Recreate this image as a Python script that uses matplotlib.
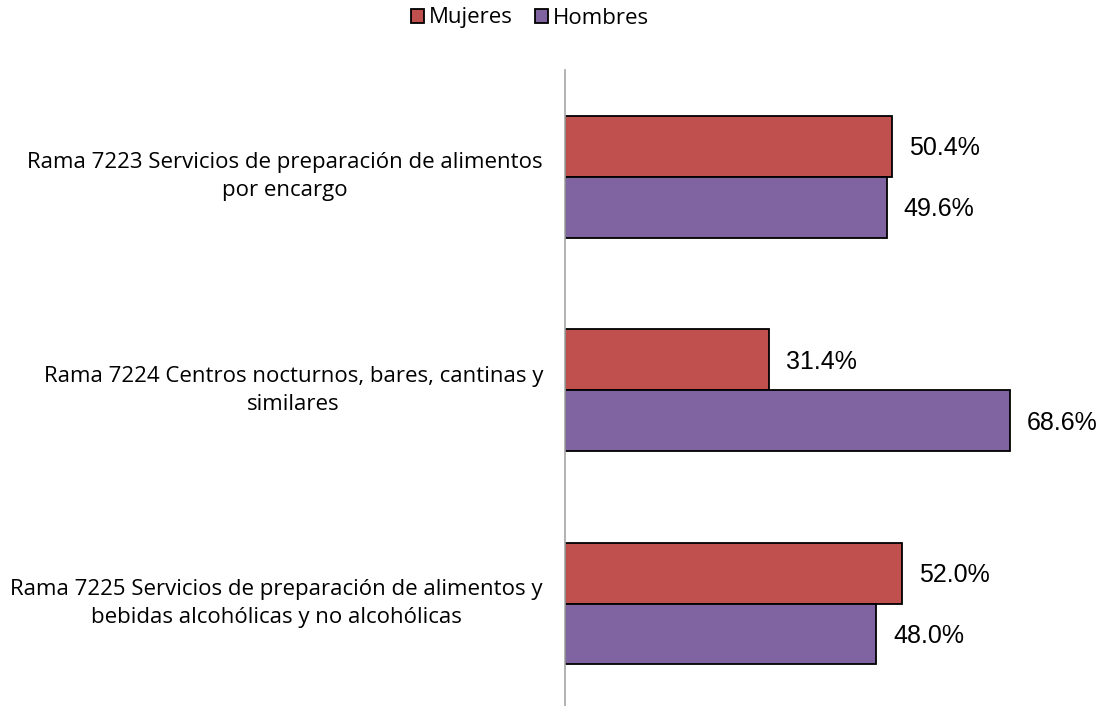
import matplotlib
matplotlib.use("Agg")
import matplotlib.pyplot as plt
import numpy as np

categories = [
    "Rama 7223 Servicios de preparación de alimentos\npor encargo",
    "Rama 7224 Centros nocturnos, bares, cantinas y\nsimilares",
    "Rama 7225 Servicios de preparación de alimentos y\nbebidas alcohólicas y no alcohólicas",
]
mujeres = [50.4, 31.4, 52.0]
hombres = [49.6, 68.6, 48.0]
series_names = ["Mujeres", "Hombres"]
colors = ["#C0504D", "#8064A2"]

label_font = "Open Sans"
num_font = "Liberation Sans"

fig = plt.figure(figsize=(11.04, 7.06), dpi=100)
ax = fig.add_axes([565 / 1104, 0, 519 / 1104, 636 / 706])

y = np.arange(len(categories))
h = 0.285
b1 = ax.barh(y - h / 2, mujeres, height=h, color=colors[0], edgecolor="black", linewidth=1.3, label=series_names[0])
b2 = ax.barh(y + h / 2, hombres, height=h, color=colors[1], edgecolor="black", linewidth=1.3, label=series_names[1])

for bars, vals in ((b1, mujeres), (b2, hombres)):
    for rect, v in zip(bars, vals):
        ax.annotate(f"{v:.1f}%", (rect.get_width(), rect.get_y() + rect.get_height() / 2),
                    xytext=(17, -2), textcoords="offset pixels",
                    ha="left", va="center", fontsize=18, family=num_font, color="#000000")

ax.set_xlim(0, 80)
ax.set_ylim(2.48, -0.5)
for s in ["top", "right", "bottom"]:
    ax.spines[s].set_visible(False)
ax.spines["left"].set_color("#A6A6A6")
ax.spines["left"].set_linewidth(1.2)
ax.set_xticks([])
ax.set_yticks([])

for yi, cat in zip(y, categories):
    ax.annotate(cat, (0, yi), xytext=(-22, 0), textcoords="offset pixels",
                ha="right", va="center", multialignment="center",
                fontsize=16, family=label_font, color="#000000", linespacing=1.45,
                annotation_clip=False)

leg = fig.legend(handles=[b1, b2], labels=series_names, loc="center", bbox_to_anchor=(530 / 1104, 1 - 18 / 706),
                 ncol=2, frameon=False, prop={"family": label_font, "size": 16},
                 handlelength=0.6, handleheight=0.6, handletextpad=0.2, columnspacing=1.0)

fig.savefig("out.png", dpi=100)
